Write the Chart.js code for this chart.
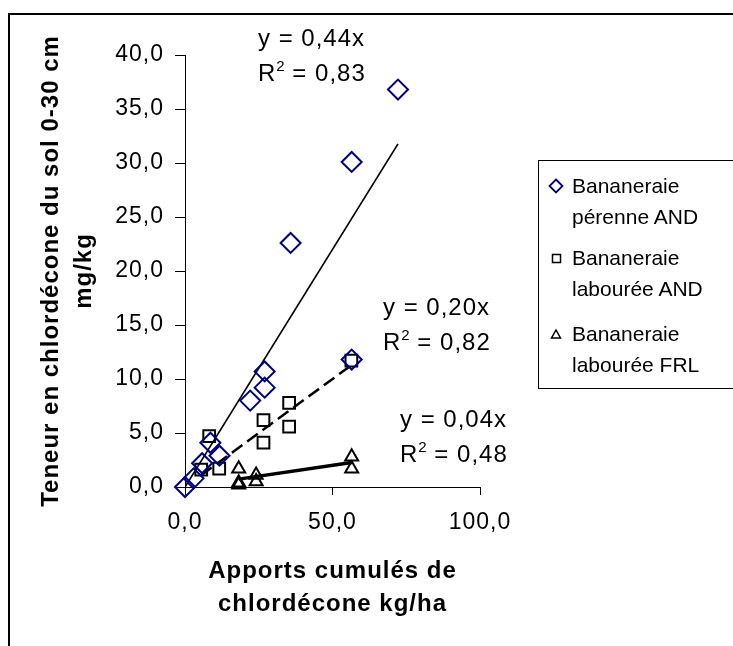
<!DOCTYPE html>
<html>
<head>
<meta charset="utf-8">
<script src="https://cdn.jsdelivr.net/npm/chart.js@4.4.1/dist/chart.umd.min.js"></script>
<style>
  body { margin: 0; background: #fff; }
  #wrap { position: relative; width: 733px; height: 646px; overflow: hidden; font-family: "Liberation Sans", Arial, sans-serif; color: #000; }
  #frame { position: absolute; left: 8px; top: 13px; width: 800px; height: 700px; border-left: 2px solid #000; border-top: 2px solid #000; }
  #c { position: absolute; left: 0; top: 0; }
  .eq { position: absolute; font-size: 24px; line-height: 35px; letter-spacing: 1px; white-space: nowrap; }
  .eq .sup { font-size: 15px; position: relative; top: -10px; letter-spacing: 0; }
  #legend { position: absolute; left: 538px; top: 160px; width: 250px; height: 227px; border: 1px solid #000; }
  .entry { position: absolute; left: 33px; font-size: 21px; line-height: 31px; white-space: nowrap; }
  .entry svg { position: absolute; left: -24px; top: 8px; }
</style>
</head>
<body>
<div id="wrap">
  <div id="frame"></div>
  <canvas id="c" width="733" height="646"></canvas>
  <div class="eq" style="left:258px;top:20px">y = 0,44x<br>R<span class="sup">2</span> = 0,83</div>
  <div class="eq" style="left:383px;top:289px">y = 0,20x<br>R<span class="sup">2</span> = 0,82</div>
  <div class="eq" style="left:400px;top:401px">y = 0,04x<br>R<span class="sup">2</span> = 0,48</div>
  <div id="legend">
    <div class="entry" style="top:9px">
      <svg width="16" height="16"><path d="M8 1.5 L14.5 8 L8 14.5 L1.5 8 Z" fill="none" stroke="#000080" stroke-width="1.8"/></svg>
      Bananeraie<br>pérenne AND</div>
    <div class="entry" style="top:81px">
      <svg width="16" height="16"><rect x="4.5" y="4.5" width="8" height="8" fill="none" stroke="#000" stroke-width="1.5"/></svg>
      Bananeraie<br>labourée AND</div>
    <div class="entry" style="top:157px">
      <svg width="16" height="16"><path d="M8 4 L12.5 12 L3.5 12 Z" fill="none" stroke="#000" stroke-width="1.5"/></svg>
      Bananeraie<br>labourée FRL</div>
  </div>
</div>
<script>
// Bananeraie pérenne AND (losanges bleus)
var perenneX = [0, 2.9, 5.8, 8.6, 11.7, 22.1, 27.0, 27.0, 35.8, 56.5, 56.5, 72.2];
var perenneY = [0, 0.8, 2.2, 4.1, 2.9, 8.0, 10.7, 9.2, 22.6, 11.8, 30.1, 36.8];
// Bananeraie labourée AND (carrés)
var labAndX = [5.5, 8.2, 11.6, 26.6, 26.6, 35.3, 35.3, 56.4];
var labAndY = [1.6, 4.7, 1.7, 6.2, 4.1, 7.8, 5.6, 11.7];
// Bananeraie labourée FRL (triangles)
var labFrlX = [18.2, 18.2, 18.2, 24.1, 24.1, 56.5, 56.5];
var labFrlY = [1.7, 0.4, 0.2, 1.1, 0.5, 2.8, 1.7];
// pentes des droites de tendance (y = a x)
var slopes = [0.44, 0.20, 0.04];

var xTicks = [0, 50, 100];
var yTicks = [0, 5, 10, 15, 20, 25, 30, 35, 40];

function pts(xs, ys) {
  return xs.map(function (x, i) { return { x: x, y: ys[i] }; });
}

function trend(xs, a) {
  var lo = Math.min.apply(null, xs), hi = Math.max.apply(null, xs);
  return [{ x: lo, y: a * lo }, { x: hi, y: a * hi }];
}

function comma(v) {
  return v.toFixed(1).replace('.', ',');
}

var font = "'Liberation Sans', Arial, sans-serif";

// texte un peu plus espacé, comme dans l'original
var spacing = {
  id: 'spacing',
  beforeDraw: function (chart) { chart.ctx.letterSpacing = '1px'; }
};

var chart = new Chart(document.getElementById('c'), {
  type: 'scatter',
  plugins: [spacing],
  data: {
    datasets: [
      {
        label: 'Bananeraie pérenne AND',
        data: pts(perenneX, perenneY), clip: false,
        pointStyle: 'rectRot', pointRadius: 10, pointBorderWidth: 2,
        borderColor: '#000080', backgroundColor: 'transparent'
      },
      {
        label: 'Bananeraie labourée AND',
        data: pts(labAndX, labAndY), clip: false,
        pointStyle: 'rect', pointRadius: 8.3, pointBorderWidth: 2,
        borderColor: '#000', backgroundColor: 'transparent'
      },
      {
        label: 'Bananeraie labourée FRL',
        data: pts(labFrlX, labFrlY), clip: false,
        pointStyle: 'triangle', pointRadius: 7.5, pointBorderWidth: 2,
        borderColor: '#000', backgroundColor: 'transparent'
      },
      {
        type: 'line', data: trend(perenneX, slopes[0]),
        borderColor: '#000', borderWidth: 1.7, pointRadius: 0, fill: false
      },
      {
        type: 'line', data: trend(labAndX, slopes[1]),
        borderColor: '#000', borderWidth: 2.5, borderDash: [13, 6], pointRadius: 0, fill: false
      },
      {
        type: 'line', data: trend(labFrlX, slopes[2]),
        borderColor: '#000', borderWidth: 3.5, pointRadius: 0, fill: false
      }
    ]
  },
  options: {
    responsive: false,
    animation: false,
    devicePixelRatio: 1,
    layout: { padding: { left: 0, top: 55, right: 253, bottom: 0 } },
    plugins: { legend: { display: false }, tooltip: { enabled: false } },
    scales: {
      x: {
        type: 'linear', min: 0, max: 100,
        afterBuildTicks: function (s) { s.ticks = xTicks.map(function (v) { return { value: v }; }); },
        afterFit: function (s) { s.height = 159; },
        grid: { drawOnChartArea: false, tickLength: 8, tickColor: '#000', tickWidth: 1 },
        border: { color: '#000', width: 1 },
        ticks: { color: '#000', padding: 14, maxRotation: 0, font: { family: font, size: 23 }, callback: comma },
        title: {
          display: true, text: ['Apports cumulés de', 'chlordécone kg/ha'],
          color: '#000', font: { family: font, size: 24, weight: 'bold', lineHeight: 1.375 },
          padding: { top: 0, bottom: 25 }
        }
      },
      y: {
        type: 'linear', min: 0, max: 40,
        afterBuildTicks: function (s) { s.ticks = yTicks.map(function (v) { return { value: v }; }); },
        afterFit: function (s) { s.width = 185; },
        grid: { drawOnChartArea: false, tickLength: 10, tickColor: '#000', tickWidth: 1 },
        border: { color: '#000', width: 1 },
        ticks: { color: '#000', padding: 11, font: { family: font, size: 23 }, callback: comma },
        title: {
          display: true, text: ['Teneur en chlordécone du sol 0-30 cm', 'mg/kg'],
          color: '#000', font: { family: font, size: 24, weight: 'bold', lineHeight: 1.375 },
          padding: { top: 35, bottom: 0 }
        }
      }
    }
  }
});
</script>
</body>
</html>
